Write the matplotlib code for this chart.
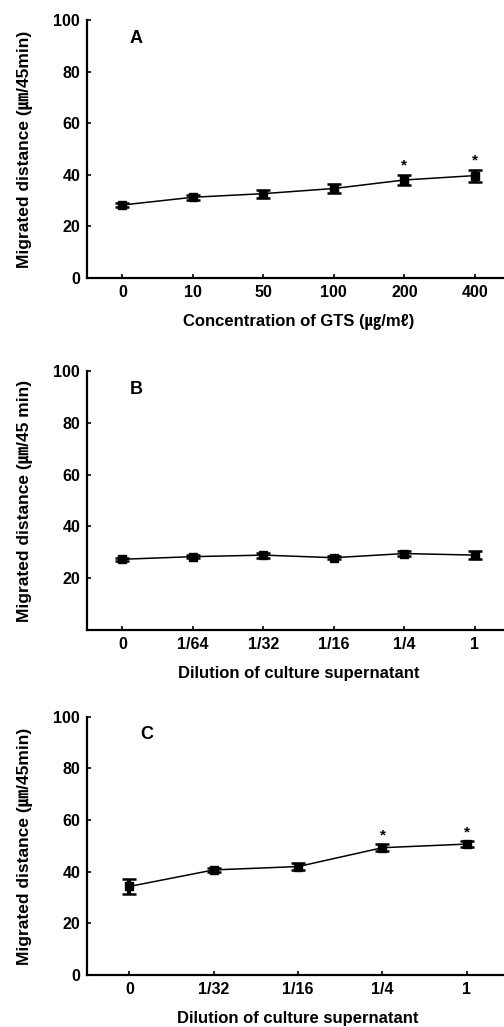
import matplotlib
matplotlib.use("Agg")
import matplotlib.pyplot as plt

plt.rcParams['font.family'] = ['Liberation Sans', 'Noto Sans CJK JP', 'DejaVu Sans']
plt.rcParams['font.weight'] = 'bold'

### DATA
# panel A: GTS concentration
cat_a = ['0', '10', '50', '100', '200', '400']
mean_a = [28.3, 31.3, 32.7, 34.7, 38.0, 39.7]
err_a = [0.8, 1.0, 1.5, 1.8, 2.0, 2.3]
sig_a = [False, False, False, False, True, True]

# panel B: culture supernatant dilution
cat_b = ['0', '1/64', '1/32', '1/16', '1/4', '1']
mean_b = [27.3, 28.3, 28.9, 27.9, 29.5, 28.9]
err_b = [0.6, 0.6, 1.0, 0.5, 1.0, 1.5]
sig_b = [False] * 6

# panel C: culture supernatant dilution
cat_c = ['0', '1/32', '1/16', '1/4', '1']
mean_c = [34.3, 40.7, 42.0, 49.3, 50.7]
err_c = [3.0, 0.7, 1.5, 1.3, 1.0]
sig_c = [False, False, False, True, True]

panels = [
    ('A', cat_a, mean_a, err_a, sig_a, [0, 20, 40, 60, 80, 100],
     'Migrated distance (㎛/45min)', 'Concentration of GTS (㎍/mℓ)'),
    ('B', cat_b, mean_b, err_b, sig_b, [20, 40, 60, 80, 100],
     'Migrated distance (㎛/45 min)', 'Dilution of culture supernatant'),
    ('C', cat_c, mean_c, err_c, sig_c, [0, 20, 40, 60, 80, 100],
     'Migrated distance (㎛/45min)', 'Dilution of culture supernatant'),
]

# axes boxes in figure fraction (left, bottom, width, height)
boxes = [
    [0.173, 0.7293, 0.839, 0.2512],
    [0.173, 0.3866, 0.839, 0.2522],
    [0.173, 0.0506, 0.837, 0.2515],
]

fig = plt.figure(figsize=(5.04, 10.27), dpi=100)

for (tag, cats, means, errs, sig, yt, ylab, xlab), box in zip(panels, boxes):
    ax = fig.add_axes(box)
    x = list(range(len(cats)))
    ax.errorbar(x, means, yerr=errs, color='black', marker='s', markersize=5.5,
                linewidth=1.1, elinewidth=3, capsize=5, capthick=1.8)
    for xi, m, e, s in zip(x, means, errs, sig):
        if s:
            ax.text(xi, m + e + 0.8, '*', ha='center', va='bottom', fontsize=11)
    ax.set_xlim(-0.5, len(cats) - 0.5)
    ax.set_ylim(0, 100)
    ax.set_xticks(x)
    ax.set_xticklabels(cats)
    ax.set_yticks(yt)
    ax.spines['top'].set_visible(False)
    ax.spines['right'].set_visible(False)
    for sp in ['left', 'bottom']:
        ax.spines[sp].set_linewidth(1.6)
    ax.tick_params(direction='in', length=3, width=1.2, labelsize=11.5)
    ax.tick_params(axis='x', pad=5)
    ax.tick_params(axis='y', pad=5)
    ax.set_ylabel(ylab, fontsize=12.5, fontweight='bold', labelpad=15)
    ax.set_xlabel(xlab, fontsize=12, fontweight='bold', labelpad=10)
    ax.text(0.2, 93, tag, fontsize=13, fontweight='bold', va='center', ha='center')

fig.savefig('out.png', dpi=100)
